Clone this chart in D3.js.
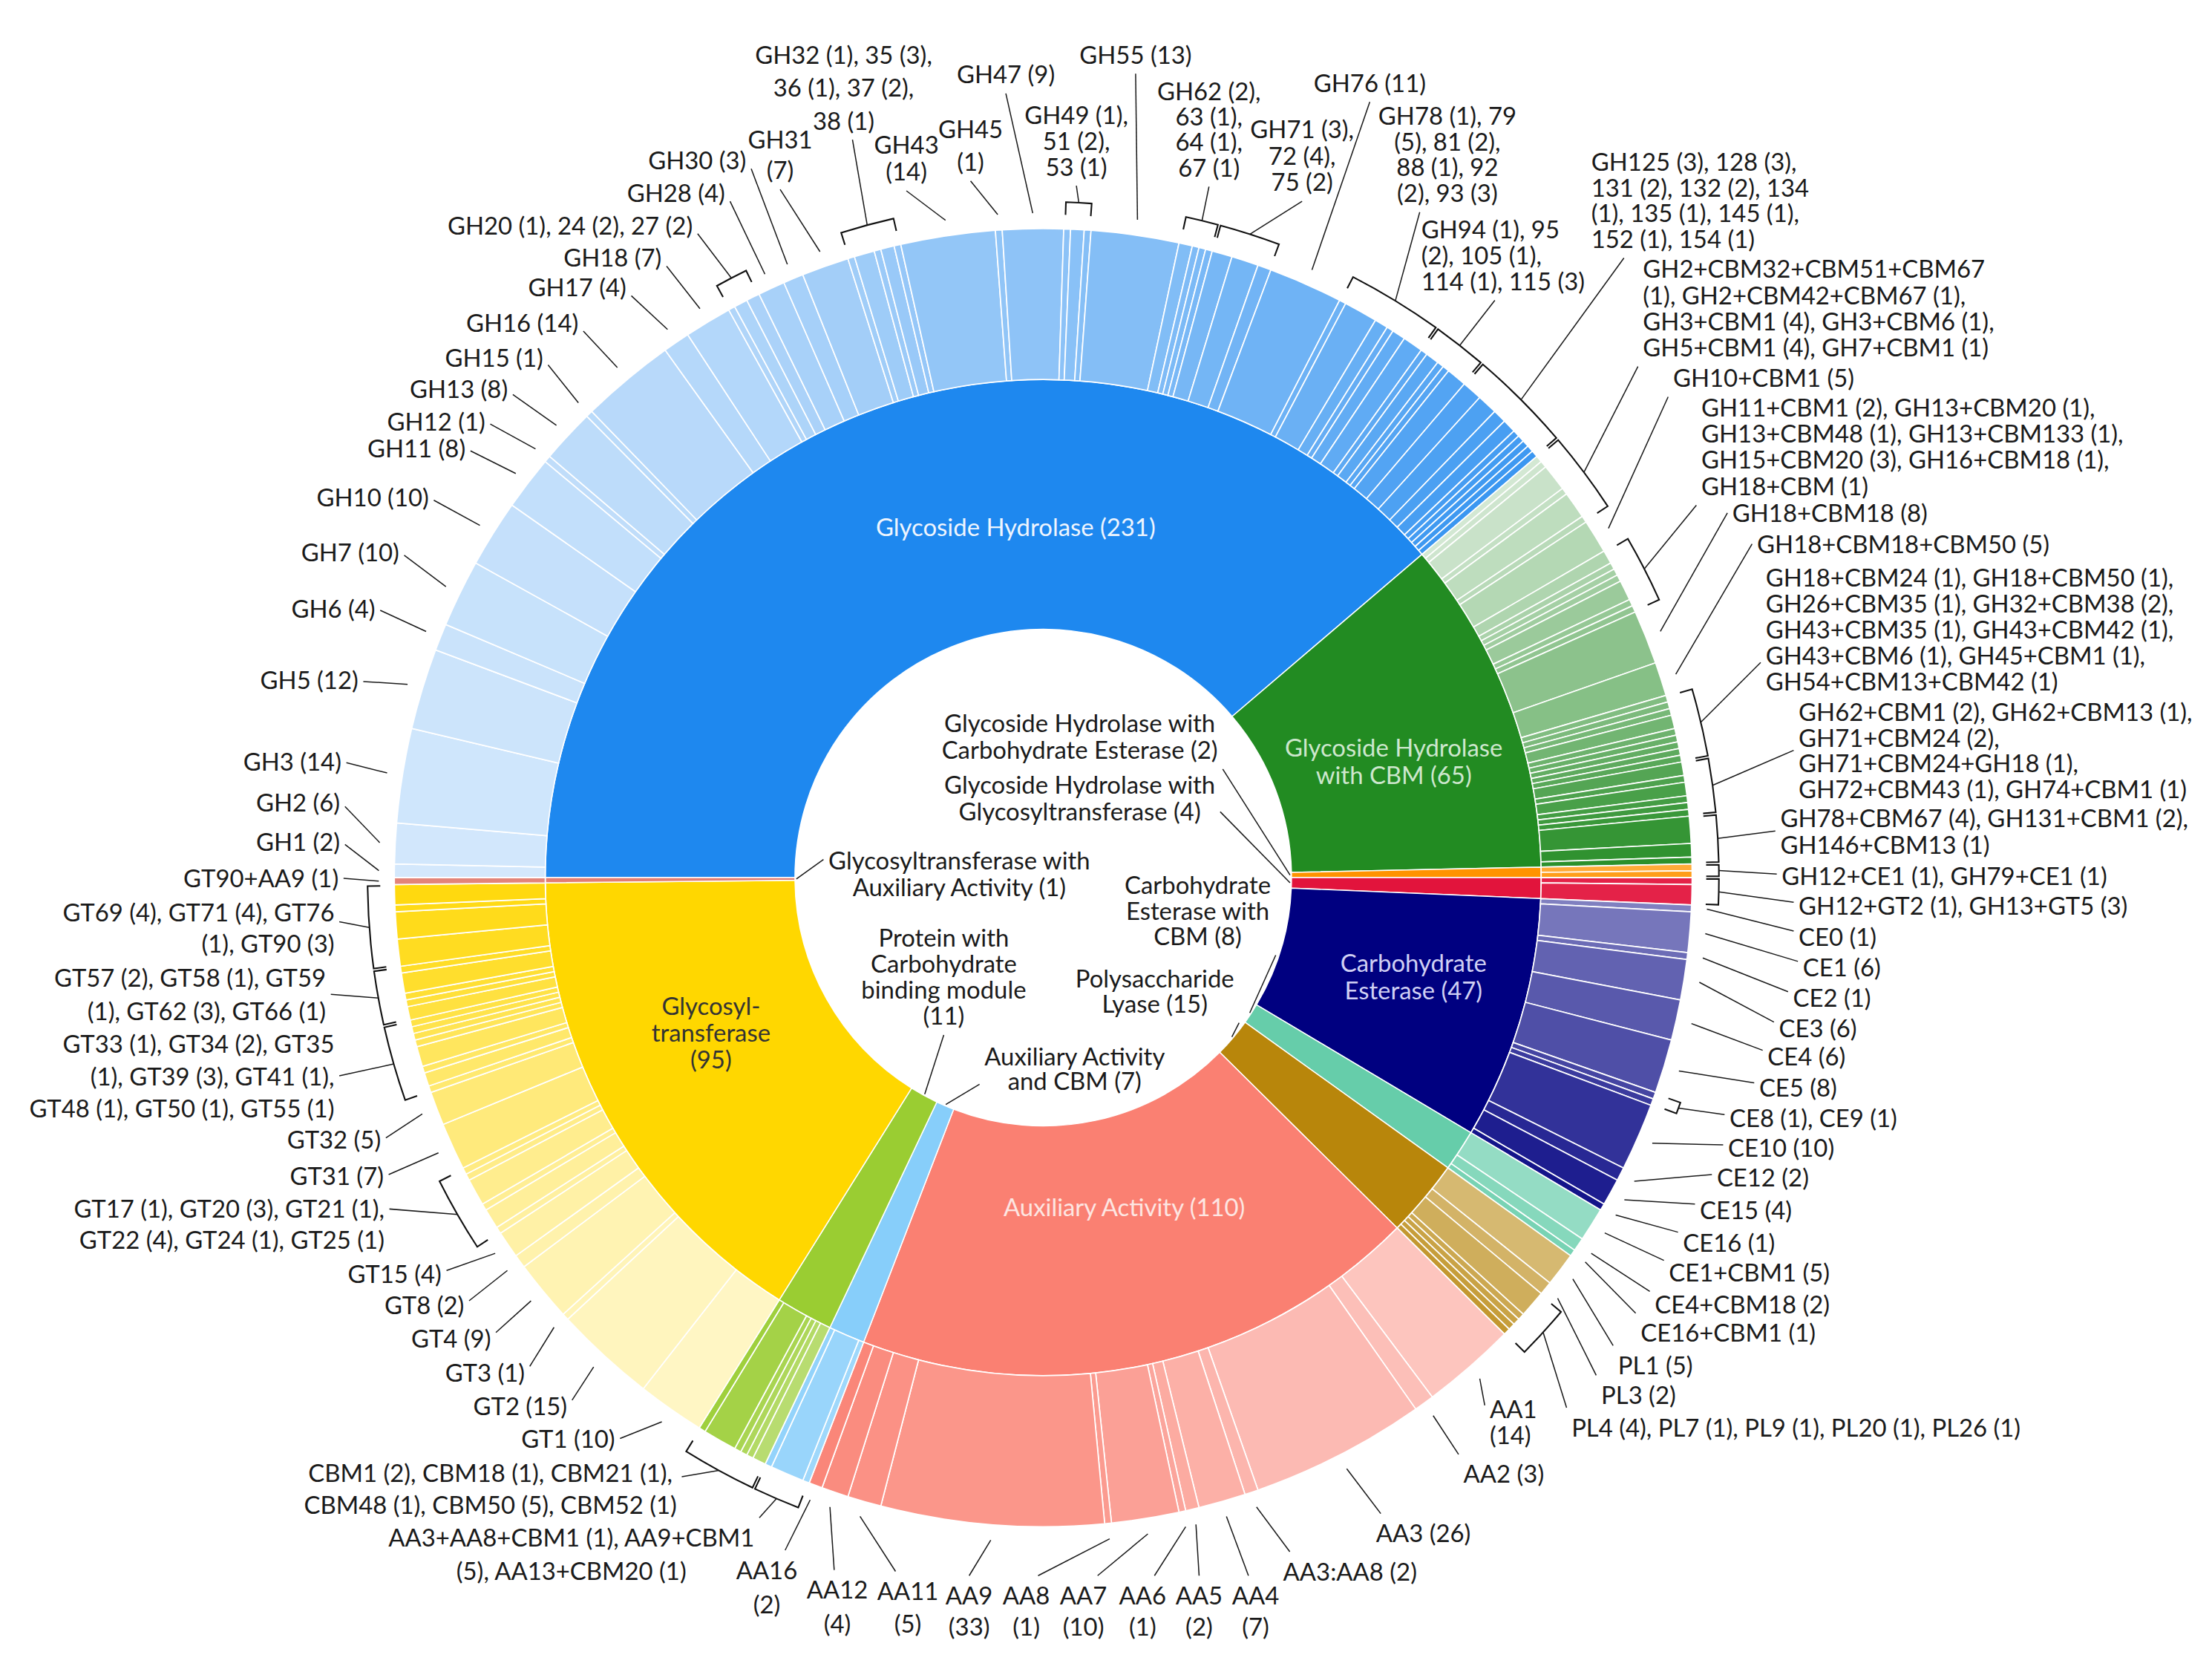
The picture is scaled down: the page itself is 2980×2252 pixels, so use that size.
<!DOCTYPE html>
<html><head><meta charset="utf-8">
<script src="https://cdn.jsdelivr.net/npm/d3@7"></script>
<style>html,body{margin:0;padding:0;background:#fff;}svg{display:block;}</style>
</head><body>
<svg id="chart" width="2980" height="2252" viewBox="0 0 1568 1185"></svg>
<script>
// ================= DATA =================
const categories = ["Glycoside Hydrolase","Glycoside Hydrolase with CBM","Glycoside Hydrolase with Carbohydrate Esterase","Glycoside Hydrolase with Glycosyltransferase","Carbohydrate Esterase","Carbohydrate Esterase with CBM","Polysaccharide Lyase","Auxiliary Activity","Auxiliary Activity and CBM","Protein with Carbohydrate binding module","Glycosyltransferase","Glycosyltransferase with Auxiliary Activity"];

const ghFamilies = ["GH1","GH2","GH3","GH5","GH6","GH7","GH10","GH11","GH12","GH13","GH15","GH16","GH17","GH18","GH20","GH24","GH27","GH28","GH30","GH31","GH32","GH35","GH36","GH37","GH38","GH43","GH45","GH47","GH49","GH51","GH53","GH55","GH62","GH63","GH64","GH67","GH71","GH72","GH75","GH76","GH78","GH79","GH81","GH88","GH92","GH93","GH94","GH95","GH105","GH114","GH115","GH125","GH128","GH131","GH132","GH134","GH135","GH145","GH152","GH154"];
const ghCounts = [2,6,14,12,4,10,10,8,1,8,1,14,4,7,1,2,2,4,3,7,1,3,1,2,1,14,1,9,1,2,1,13,2,1,1,1,3,4,2,11,1,5,2,1,2,3,1,2,1,1,3,3,3,2,2,1,1,1,1,1];

const ghCbmFamilies = ["GH2+CBM32+CBM51+CBM67","GH2+CBM42+CBM67","GH3+CBM1","GH3+CBM6","GH5+CBM1","GH7+CBM1","GH10+CBM1","GH11+CBM1","GH13+CBM20","GH13+CBM48","GH13+CBM133","GH15+CBM20","GH16+CBM18","GH18+CBM","GH18+CBM18","GH18+CBM18+CBM50","GH18+CBM24","GH18+CBM50","GH26+CBM35","GH32+CBM38","GH43+CBM35","GH43+CBM42","GH43+CBM6","GH45+CBM1","GH54+CBM13+CBM42","GH62+CBM1","GH62+CBM13","GH71+CBM24","GH71+CBM24+GH18","GH72+CBM43","GH74+CBM1","GH78+CBM67","GH131+CBM1","GH146+CBM13"];
const ghCbmCounts = [1,1,4,1,4,1,5,2,1,1,1,3,1,1,8,5,1,1,1,2,1,1,1,1,1,2,1,2,1,1,1,4,2,1];

const ghCeFamilies = ["GH12+CE1","GH79+CE1"];
const ghCeCounts = [1,1];
const ghGtFamilies = ["GH12+GT2","GH13+GT5"];
const ghGtCounts = [1,3];
const ceFamilies = ["CE0","CE1","CE2","CE3","CE4","CE5","CE8","CE9","CE10","CE12","CE15","CE16"];
const ceCounts = [1,6,1,6,6,8,1,1,10,2,4,1];
const ceCbmFamilies = ["CE1+CBM1","CE4+CBM18","CE16+CBM1"];
const ceCbmCounts = [5,2,1];
const plFamilies = ["PL1","PL3","PL4","PL7","PL9","PL20","PL26"];
const plCounts = [5,2,4,1,1,1,1];
const aaFamilies = ["AA1","AA2","AA3","AA3:AA8","AA4","AA5","AA6","AA7","AA8","AA9","AA11","AA12","AA16"];
const aaCounts = [14,3,26,2,7,2,1,10,1,33,5,4,2];
const aaCbmFamilies = ["AA3+AA8+CBM1","AA9+CBM1","AA13+CBM20"];
const aaCbmCounts = [1,5,1];
const cbmFamilies = ["CBM1","CBM18","CBM21","CBM48","CBM50","CBM52"];
const cbmCounts = [2,1,1,1,5,1];
const gtFamilies = ["GT1","GT2","GT3","GT4","GT8","GT15","GT17","GT20","GT21","GT22","GT24","GT25","GT31","GT32","GT33","GT34","GT35","GT39","GT41","GT48","GT50","GT55","GT57","GT58","GT59","GT62","GT66","GT69","GT71","GT76","GT90"];
const gtCounts = [10,15,1,9,2,4,1,3,1,4,1,1,7,5,1,2,1,3,1,1,1,1,2,1,1,3,1,4,4,1,3];
const gtAaFamilies = ["GT90+AA9"];
const gtAaCounts = [1];

// ================= STYLE / LAYOUT =================
const catColors = ["#1E88EF","#228B22","#FF9300","#E2143C","#000080","#66CDAA","#B8860B","#FA8072","#87CEFA","#9ACD32","#FFD700","#E27D72"];
const tintRange = [[0.81,0.13],[0.80,0.04],[0.22,0.10],[0.06,0.06],[0.50,0.08],[0.30,0.12],[0.42,0.15],[0.54,0.05],[0.20,0.10],[0.30,0.05],[0.77,0.06],[0.05,0.05]];
const cx = 739.5, cy = 622;
const R = [176, 353, 460];
const A0 = -Math.PI/2;
const rLeader = 471, rBracket = 479, rTick = 470;
const FS = 17.3, LH = 18.5;

const innerCaptions = [
  {c:0, x:720, y:374, fill:"#EEF5FE"},
  {c:1, x:988, y:530, wrap:[2,3], lh:19.5, fill:"#CDE7CD"},
  {c:4, x:1002, y:683, wrap:[1,2], lh:19, fill:"#D0D0F4"},
  {c:7, x:797, y:856, fill:"#FDE6E2"},
  {c:10, x:504, y:713.5, lines:["Glycosyl-","transferase"], lh:18.7, fill:"#333333"}
];
const holeCaptions = [
  {c:2, x:765.4, y:513, wrap:[3,3], lh:18.8, at:[1,1]},
  {c:3, x:765.4, y:556.7, wrap:[3,2], lh:18.7, at:[1,0.75]},
  {c:11, x:680, y:610, wrap:[2,3], lh:19, at:[0,0.25]},
  {c:5, x:849, y:627.7, wrap:[1,2,2], lh:18, at:[1,1]},
  {c:6, x:818.6, y:694, wrap:[1,2], lh:17.7, at:[1,1]},
  {c:9, x:669, y:664.8, wrap:[2,1,2,1], lh:18.5, at:[0.5,1]},
  {c:8, x:761.8, y:748.8, wrap:[2,3], lh:17.5, at:[0,0.8]}
];
const callouts = [
  {k:["GH1"], x:241, y:597, a:"end", at:[1,0.6]},
  {k:["GH2"], x:241, y:569, a:"end", at:[1,0.65]},
  {k:["GH3"], x:242, y:540, a:"end", at:[1,0.55]},
  {k:["GH5"], x:254, y:482.5, a:"end", at:[1,0.55]},
  {k:["GH6"], x:266, y:432, a:"end", at:[1,0.55]},
  {k:["GH7"], x:283, y:392, a:"end", at:[1,0.6]},
  {k:["GH10"], x:304, y:353, a:"end", at:[1,0.6]},
  {k:["GH11"], x:330, y:318, a:"end", at:[1,0.6]},
  {k:["GH12"], x:344, y:299, a:"end", at:[1,0.6]},
  {k:["GH13"], x:360, y:276, a:"end", at:[1,0.7]},
  {k:["GH15"], x:385, y:254, a:"end", at:[1,0.75]},
  {k:["GH16"], x:410, y:229, a:"end", at:[1,0.8]},
  {k:["GH17"], x:444, y:204, a:"end", at:[1,0.8]},
  {k:["GH18"], x:469, y:183, a:"end", at:[1,0.8]},
  {k:["GH20","GH24","GH27"], x:491, y:160, a:"end", at:[1,0.8], s:1},
  {k:["GH28"], x:514, y:137, a:"end", at:[1,0.8]},
  {k:["GH30"], x:529, y:114, a:"end", at:[1,0.8]},
  {k:["GH31"], x:553, y:99, a:"middle", at:[0.5,1], w:[1,1], lh:22},
  {k:["GH32","GH35","GH36","GH37","GH38"], x:598, y:39, a:"middle", at:[0.55,1], w:[4,4,2], lh:23.4, s:1},
  {k:["GH43"], x:642.5, y:103, a:"middle", at:[0.5,1], w:[1,1], lh:19},
  {k:["GH45"], x:688, y:92, a:"middle", at:[0.5,1], w:[1,1], lh:23},
  {k:["GH47"], x:713, y:53, a:"middle", at:[0.5,1]},
  {k:["GH49","GH51","GH53"], x:763, y:82, a:"middle", at:[0.5,1], w:[2,2,2], lh:18.2, s:1},
  {k:["GH55"], x:805, y:39, a:"middle", at:[0.5,1]},
  {k:["GH62","GH63","GH64","GH67"], x:857, y:65, a:"middle", at:[0.5,1], w:[2,2,2,2], lh:18, s:1},
  {k:["GH71","GH72","GH75"], x:923, y:92, a:"middle", at:[0.5,1], w:[2,2,2], lh:18.7, s:1},
  {k:["GH76"], x:971, y:59, a:"middle", at:[0.5,1]},
  {k:["GH78","GH79","GH81","GH88","GH92","GH93"], x:1026, y:82.5, a:"middle", at:[0.3,1], w:[3,3,3,3], lh:18.2, s:1},
  {k:["GH94","GH95","GH105","GH114","GH115"], x:1007.5, y:163, a:"start", at:[0.45,1], w:[3,3,4], lh:18.3, s:1},
  {k:["GH125","GH128","GH131","GH132","GH134","GH135","GH145","GH152","GH154"], x:1128, y:115, a:"start", at:[0.15,1], w:[4,5,5,4], lh:18.2, s:1},
  {k:["GH2+CBM32+CBM51+CBM67","GH2+CBM42+CBM67","GH3+CBM1","GH3+CBM6","GH5+CBM1","GH7+CBM1"], x:1164.6, y:191, a:"start", at:[0,1], w:[1,3,4,4], lh:18.5},
  {k:["GH10+CBM1"], x:1186, y:268, a:"start", at:[0,1]},
  {k:["GH11+CBM1","GH13+CBM20","GH13+CBM48","GH13+CBM133","GH15+CBM20","GH16+CBM18","GH18+CBM"], x:1206, y:289, a:"start", at:[0,1], w:[4,4,4,2], lh:18.6},
  {k:["GH18+CBM18"], x:1228, y:364, a:"start", at:[0,0.5]},
  {k:["GH18+CBM18+CBM50"], x:1245.5, y:386, a:"start", at:[0,0.5]},
  {k:["GH18+CBM24","GH18+CBM50","GH26+CBM35","GH32+CBM38","GH43+CBM35","GH43+CBM42","GH43+CBM6","GH45+CBM1","GH54+CBM13+CBM42"], x:1251.6, y:409.7, a:"start", at:[0,0.75], w:[4,4,4,4,2], lh:18.4},
  {k:["GH62+CBM1","GH62+CBM13","GH71+CBM24","GH71+CBM24+GH18","GH72+CBM43","GH74+CBM1"], x:1275, y:505, a:"start", at:[0,0.5], w:[4,2,2,4], lh:18.2},
  {k:["GH78+CBM67","GH131+CBM1","GH146+CBM13"], x:1262, y:580, a:"start", at:[0,0.5], w:[4,2], lh:19},
  {k:["GH12+CE1","GH79+CE1"], x:1263, y:621, a:"start", at:[0,0.45]},
  {k:["GH12+GT2","GH13+GT5"], x:1275, y:642, a:"start", at:[0,0.4]},
  {k:["CE0"], x:1275, y:664.5, a:"start", at:[0,0.3]},
  {k:["CE1"], x:1278, y:686, a:"start", at:[0,0.3]},
  {k:["CE2"], x:1271, y:707.5, a:"start", at:[0,0.3]},
  {k:["CE3"], x:1261, y:729, a:"start", at:[0,0.3]},
  {k:["CE4"], x:1253, y:749, a:"start", at:[0,0.3]},
  {k:["CE5"], x:1247, y:771, a:"start", at:[0,0.35]},
  {k:["CE8","CE9"], x:1226, y:792.5, a:"start", at:[0,0.4]},
  {k:["CE10"], x:1225, y:814, a:"start", at:[0,0.4]},
  {k:["CE12"], x:1217, y:835, a:"start", at:[0,0.4]},
  {k:["CE15"], x:1205, y:858, a:"start", at:[0,0.3]},
  {k:["CE16"], x:1193, y:881, a:"start", at:[0,0.15]},
  {k:["CE1+CBM1"], x:1183, y:902, a:"start", at:[0,0.1]},
  {k:["CE4+CBM18"], x:1173, y:925, a:"start", at:[0,0.05]},
  {k:["CE16+CBM1"], x:1163, y:945, a:"start", at:[0,0]},
  {k:["PL1"], x:1147, y:968, a:"start", at:[0,0]},
  {k:["PL3"], x:1135, y:989, a:"start", at:[0,0]},
  {k:["PL4","PL7","PL9","PL20","PL26"], x:1114, y:1012, a:"start", at:[0,0]},
  {k:["AA1"], x:1056, y:999, a:"start", at:[0,0.2], w:[1,1], lh:18.3},
  {k:["AA2"], x:1066, y:1045, a:"middle", at:[0,0]},
  {k:["AA3"], x:1009, y:1087, a:"middle", at:[0.05,0]},
  {k:["AA3:AA8"], x:957, y:1114, a:"middle", at:[0.05,0]},
  {k:["AA4"], x:890, y:1131, a:"middle", at:[0.35,0], w:[1,1], lh:22},
  {k:["AA5"], x:850, y:1131, a:"middle", at:[0.5,0], w:[1,1], lh:22},
  {k:["AA6"], x:810, y:1131, a:"middle", at:[0.75,0], w:[1,1], lh:22},
  {k:["AA7"], x:768, y:1131, a:"middle", at:[0.8,0], w:[1,1], lh:22},
  {k:["AA8"], x:727.5, y:1131, a:"middle", at:[0.75,0], w:[1,1], lh:22},
  {k:["AA9"], x:687, y:1131, a:"middle", at:[0.5,0], w:[1,1], lh:22},
  {k:["AA11"], x:643.5, y:1128, a:"middle", at:[0.3,0], w:[1,1], lh:23},
  {k:["AA12"], x:593.5, y:1127, a:"middle", at:[0.45,0], w:[1,1], lh:24},
  {k:["AA16"], x:543.5, y:1113, a:"middle", at:[0.8,0], w:[1,1], lh:24.5},
  {k:["AA3+AA8+CBM1","AA9+CBM1","AA13+CBM20"], x:405, y:1090, a:"middle", at:[1,0], w:[3,3], lh:23.5},
  {k:["CBM1","CBM18","CBM21","CBM48","CBM50","CBM52"], x:347.6, y:1044.5, a:"middle", at:[1,0.3], w:[6,6], lh:22.5},
  {k:["GT1"], x:436, y:1020, a:"end", at:[1,0.5]},
  {k:["GT2"], x:402, y:997, a:"end", at:[1,0.3]},
  {k:["GT3"], x:372, y:973, a:"end", at:[1,0.3]},
  {k:["GT4"], x:348, y:949, a:"end", at:[1,0.3]},
  {k:["GT8"], x:329, y:925.5, a:"end", at:[1,0.35]},
  {k:["GT15"], x:313, y:903, a:"end", at:[1,0.4]},
  {k:["GT17","GT20","GT21","GT22","GT24","GT25"], x:272.5, y:857, a:"end", at:[1,0.25], w:[6,6], lh:22},
  {k:["GT31"], x:272, y:834, a:"end", at:[1,0.45]},
  {k:["GT32"], x:270, y:808, a:"end", at:[1,0.45]},
  {k:["GT33","GT34","GT35","GT39","GT41","GT48","GT50","GT55"], x:237, y:740, a:"end", at:[1,0.5], w:[5,5,6], lh:23},
  {k:["GT57","GT58","GT59","GT62","GT66"], x:231, y:693.5, a:"end", at:[1,0.5], w:[5,5], lh:23.5},
  {k:["GT69","GT71","GT76","GT90"], x:237, y:647, a:"end", at:[1,0.4], w:[5,3], lh:22},
  {k:["GT90+AA9"], x:240, y:623, a:"end", at:[1,0.5]}
];

// ================= BUILD =================
const famNames = [ghFamilies, ghCbmFamilies, ghCeFamilies, ghGtFamilies, ceFamilies, ceCbmFamilies, plFamilies, aaFamilies, aaCbmFamilies, cbmFamilies, gtFamilies, gtAaFamilies];
const famCounts = [ghCounts, ghCbmCounts, ghCeCounts, ghGtCounts, ceCounts, ceCbmCounts, plCounts, aaCounts, aaCbmCounts, cbmCounts, gtCounts, gtAaCounts];

const rootData = {name:"root", children: categories.map((c,i)=>({name:c, ci:i,
  children: famNames[i].map((f,j)=>({name:f, ci:i, fj:j, count:famCounts[i][j]}))}))};
const root = d3.hierarchy(rootData).sum(d => d.count || 0);
d3.partition().size([2*Math.PI, 3])(root);

const svg = d3.select("#chart");
const gArcs = svg.append("g").attr("transform", `translate(${cx},${cy})`);
const gLines = svg.append("g").attr("fill","none");
const gText = svg.append("g").attr("font-family","Lato, 'Open Sans', sans-serif").attr("font-size",FS);

const arc = d3.arc()
  .startAngle(d => d.x0 + A0).endAngle(d => d.x1 + A0)
  .innerRadius(d => R[d.depth-1]).outerRadius(d => R[d.depth]);

function nodeColor(d){
  const base = catColors[d.data.ci];
  if (d.depth === 1) return base;
  const n = famNames[d.data.ci].length;
  const [w0,w1] = tintRange[d.data.ci];
  const t = n > 1 ? d.data.fj/(n-1) : 0;
  return d3.interpolateRgb(base, "#ffffff")(w0 + (w1-w0)*t);
}

gArcs.selectAll("path").data(root.descendants().filter(d => d.depth > 0)).join("path")
  .attr("d", arc).attr("fill", nodeColor)
  .attr("stroke","#ffffff").attr("stroke-width", d => d.depth === 1 ? 0.8 : 0.9)
  .attr("stroke-linejoin","round");

const polar = (a, r) => [cx + r*Math.sin(a), cy - r*Math.cos(a)];
const leafByName = new Map(root.leaves().map(d => [d.data.name, d]));

function tokensFor(keys, short){
  const toks = [];
  keys.forEach((k,i) => {
    const d = leafByName.get(k);
    let nm = d.data.name;
    if (short && i > 0) nm = nm.replace(/^[A-Z]+/, "");
    toks.push(nm);
    toks.push("(" + d.value + ")" + (i < keys.length-1 ? "," : ""));
  });
  return toks;
}
function wrapTokens(toks, wrap){
  if (!wrap) return [toks.join(" ")];
  const out = []; let p = 0;
  wrap.forEach(n => { out.push(toks.slice(p, p+n).join(" ")); p += n; });
  return out;
}
function drawText(lines, x, y, anchor, lh, fill){
  const t = gText.append("text").attr("text-anchor", anchor).attr("fill", fill);
  lines.forEach((ln,i) => t.append("tspan").attr("x", x).attr("y", y + i*lh).attr("dy","0.35em").text(ln));
  return t;
}
function attachPoint(t, at){
  const b = t.node().getBBox();
  const g = 3.5;
  const ox = at[0] <= 0.01 ? -g : (at[0] >= 0.99 ? g : 0);
  const oy = at[1] <= 0.01 ? -g : (at[1] >= 0.99 ? g : 0);
  return [b.x + at[0]*b.width + ox, b.y + at[1]*b.height + oy];
}
function line(p, q, w){
  gLines.append("line").attr("x1",p[0]).attr("y1",p[1]).attr("x2",q[0]).attr("y2",q[1])
    .attr("stroke","#1a1a1a").attr("stroke-width", w || 0.8);
}

const catNodes = root.children;
innerCaptions.forEach(c => {
  const d = catNodes[c.c];
  let lines;
  if (c.lines) lines = c.lines.concat(["(" + d.value + ")"]);
  else lines = wrapTokens((d.data.name + " (" + d.value + ")").split(" "), c.wrap);
  drawText(lines, c.x, c.y, "middle", c.lh || LH, c.fill);
});

holeCaptions.forEach(c => {
  const d = catNodes[c.c];
  const lines = wrapTokens((d.data.name + " (" + d.value + ")").split(" "), c.wrap);
  const t = drawText(lines, c.x, c.y, "middle", c.lh || LH, "#1a1a1a");
  const mid = (d.x0 + d.x1)/2 + A0;
  line(attachPoint(t, c.at), polar(mid, R[0] - 1));
});

callouts.forEach(c => {
  const leaves = c.k.map(k => leafByName.get(k));
  const a0 = d3.min(leaves, d => d.x0) + A0, a1 = d3.max(leaves, d => d.x1) + A0;
  const mid = (a0 + a1)/2;
  const lines = wrapTokens(tokensFor(c.k, c.s), c.w);
  const t = drawText(lines, c.x, c.y, c.a, c.lh || LH, "#1a1a1a");
  const p = attachPoint(t, c.at);
  if (leaves.length > 1) {
    const s = a0 + 0.002, e = a1 - 0.002;
    const path = d3.path();
    const q0 = polar(s, rTick); path.moveTo(q0[0], q0[1]);
    const q1 = polar(s, rBracket); path.lineTo(q1[0], q1[1]);
    path.arc(cx, cy, rBracket, s - Math.PI/2, e - Math.PI/2, false);
    const q2 = polar(e, rTick); path.lineTo(q2[0], q2[1]);
    gLines.append("path").attr("d", path.toString()).attr("stroke","#111").attr("stroke-width",1.1).attr("stroke-linejoin","miter");
    line(p, polar(mid, rBracket));
  } else {
    line(p, polar(mid, rLeader));
  }
});
</script>
</body></html>
